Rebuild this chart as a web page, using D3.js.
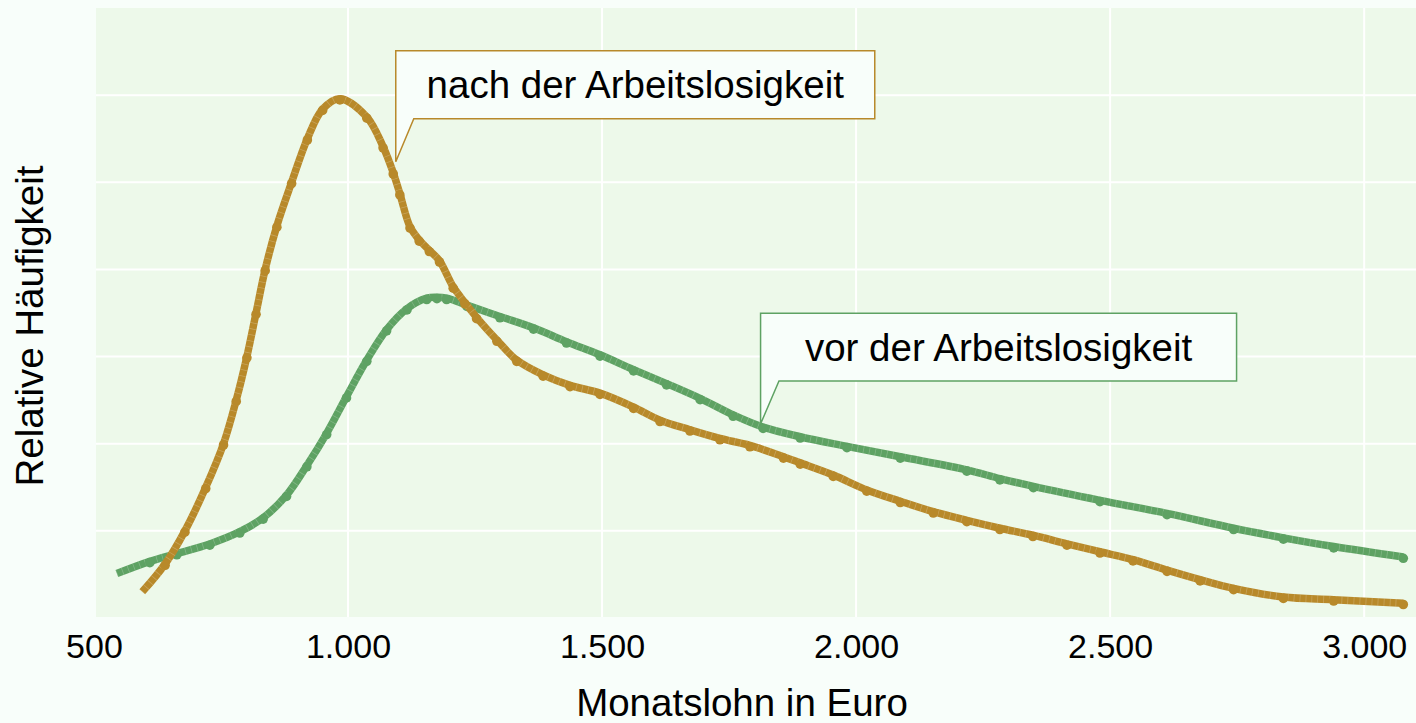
<!DOCTYPE html>
<html>
<head>
<meta charset="utf-8">
<script src="https://cdn.jsdelivr.net/npm/d3@7"></script>
<style>
  html, body { margin: 0; padding: 0; background: #f8fefa; }
  svg { display: block; font-family: "Liberation Sans", Arial, sans-serif; }
</style>
</head>
<body>
<svg id="chart" width="1416" height="723"></svg>
<script>
// ---- Data (Monatslohn in Euro, relative Häufigkeit in arbitrary units) ----
const nachLohn = [595, 640, 679, 720, 755, 780, 801, 819, 837, 860, 889, 920, 950, 984, 1037, 1069, 1089, 1102, 1122, 1140, 1160, 1180, 1207, 1230, 1253, 1293, 1332, 1384, 1437, 1496, 1562, 1614, 1673, 1732, 1791, 1857, 1890, 1955, 2021, 2087, 2152, 2218, 2283, 2348, 2415, 2480, 2545, 2612, 2677, 2743, 2841, 2940, 3077];
const nachWert = [0.30, 0.62, 1.00, 1.50, 2.00, 2.50, 3.00, 3.50, 4.00, 4.50, 5.00, 5.50, 5.84, 5.96, 5.75, 5.41, 5.11, 4.87, 4.49, 4.34, 4.22, 4.10, 3.80, 3.62, 3.45, 3.19, 2.96, 2.79, 2.67, 2.58, 2.42, 2.27, 2.16, 2.06, 1.98, 1.85, 1.78, 1.64, 1.47, 1.34, 1.22, 1.12, 1.03, 0.95, 0.85, 0.76, 0.67, 0.55, 0.44, 0.34, 0.24, 0.21, 0.17];

const vorLohn = [545, 610, 663, 728, 787, 833, 879, 919, 958, 997, 1037, 1076, 1116, 1155, 1175, 1194, 1234, 1299, 1365, 1430, 1496, 1562, 1627, 1693, 1758, 1817, 1890, 1982, 2087, 2218, 2283, 2349, 2480, 2612, 2743, 2841, 2940, 3077];
const vorWert = [0.51, 0.65, 0.74, 0.85, 0.99, 1.15, 1.41, 1.75, 2.12, 2.54, 2.96, 3.31, 3.55, 3.67, 3.68, 3.67, 3.59, 3.46, 3.33, 3.17, 3.02, 2.85, 2.69, 2.52, 2.33, 2.19, 2.08, 1.97, 1.85, 1.70, 1.60, 1.51, 1.35, 1.20, 1.03, 0.92, 0.82, 0.70];

const xTicks = [500, 1000, 1500, 2000, 2500, 3000];
const xTickLabels = ["500", "1.000", "1.500", "2.000", "2.500", "3.000"];
const yGrid = [1, 2, 3, 4, 5, 6];

const seriesNames = ["nach der Arbeitslosigkeit", "vor der Arbeitslosigkeit"];
const xTitle = "Monatslohn in Euro";
const yTitle = "Relative Häufigkeit";

// ---- Layout ----
const W = 1416, H = 723;
const plot = { left: 96, right: 1416, top: 8, bottom: 617 };
const gold = "#b8892a", green = "#5ea263";

const svg = d3.select("#chart");
const x = d3.scaleLinear().domain([504, 3102]).range([plot.left, plot.right]);
const y = d3.scaleLinear().domain([0, 7]).range([618, plot.top]);

svg.append("rect").attr("width", W).attr("height", H).attr("fill", "#f8fefa");
svg.append("rect")
  .attr("x", plot.left).attr("y", plot.top)
  .attr("width", plot.right - plot.left).attr("height", plot.bottom - plot.top)
  .attr("fill", "#edf9ea");

svg.append("clipPath").attr("id", "clip").append("rect")
  .attr("x", plot.left).attr("y", plot.top)
  .attr("width", plot.right - plot.left).attr("height", plot.bottom - plot.top);

const grid = svg.append("g").attr("clip-path", "url(#clip)");
grid.selectAll("line.h").data(yGrid).join("line")
  .attr("x1", plot.left).attr("x2", plot.right)
  .attr("y1", d => y(d)).attr("y2", d => y(d))
  .attr("stroke", "#ffffff").attr("stroke-width", 2);
grid.selectAll("line.v").data(xTicks).join("line")
  .attr("x1", d => x(d)).attr("x2", d => x(d))
  .attr("y1", plot.top).attr("y2", plot.bottom)
  .attr("stroke", "#ffffff").attr("stroke-width", 2);

// x axis
const xAxis = d3.axisBottom(x).tickValues(xTicks)
  .tickFormat((d, i) => xTickLabels[i]).tickSize(0).tickPadding(0);
const gx = svg.append("g").attr("transform", `translate(0,${plot.bottom})`).call(xAxis);
gx.select(".domain").remove();
gx.selectAll("text").attr("font-size", 34).attr("fill", "#000")
  .attr("font-family", "Liberation Sans, Arial, sans-serif")
  .attr("dy", null).attr("y", 41);

// titles
svg.append("text").attr("x", 742).attr("y", 716)
  .attr("text-anchor", "middle").attr("font-size", 38.5).attr("fill", "#000").text(xTitle);
svg.append("text").attr("transform", "translate(43,326) rotate(-90)")
  .attr("text-anchor", "middle").attr("font-size", 38.5).attr("fill", "#000").text(yTitle);

// lines
const line = d3.line().x(d => x(d[0])).y(d => y(d[1])).curve(d3.curveCatmullRom.alpha(0.5));
const series = [
  { name: seriesNames[1], color: green, pts: vorLohn.map((v, i) => [v, vorWert[i]]) },
  { name: seriesNames[0], color: gold, pts: nachLohn.map((v, i) => [v, nachWert[i]]) }
];
const lg = svg.append("g").attr("clip-path", "url(#clip)");
series.forEach(s => {
  lg.append("path").attr("d", line(s.pts)).attr("fill", "none")
    .attr("stroke", s.color).attr("stroke-width", 7.5);
  lg.append("path").attr("d", line(s.pts)).attr("fill", "none")
    .attr("stroke", "rgba(255,255,255,0.22)").attr("stroke-width", 7.5)
    .attr("stroke-dasharray", "0.8 5.2");
  lg.selectAll(null).data(s.pts.slice(1)).join("circle")
    .attr("cx", d => x(d[0])).attr("cy", d => y(d[1]) + 1.3).attr("r", 4.8)
    .attr("fill", s.color);
});

// callouts: tip in data coords, box relative to tip in px
const callouts = [
  { text: seriesNames[0], color: gold, tip: [1094, 5.235], box: { dx0: 0, dy0: -111, w: 479, h: 68, notch: 18 } },
  { text: seriesNames[1], color: green, tip: [1812, 2.227], box: { dx0: 0, dy0: -110.7, w: 476, h: 67.7, notch: 18.4 } }
];
callouts.forEach(c => {
  const tx = x(c.tip[0]), ty = y(c.tip[1]);
  const bx = tx + c.box.dx0, by = ty + c.box.dy0, bw = c.box.w, bh = c.box.h;
  const p = d3.path();
  p.moveTo(bx, by);
  p.lineTo(bx + bw, by);
  p.lineTo(bx + bw, by + bh);
  p.lineTo(bx + c.box.notch, by + bh);
  p.lineTo(tx, ty);
  p.closePath();
  svg.append("path").attr("d", p.toString()).attr("fill", "#f8fefa")
    .attr("stroke", c.color).attr("stroke-width", 1.5);
  svg.append("text").attr("x", bx + bw / 2).attr("y", by + bh / 2 + 13.5)
    .attr("text-anchor", "middle").attr("font-size", 38.5).attr("fill", "#000").text(c.text);
});
</script>
</body>
</html>
